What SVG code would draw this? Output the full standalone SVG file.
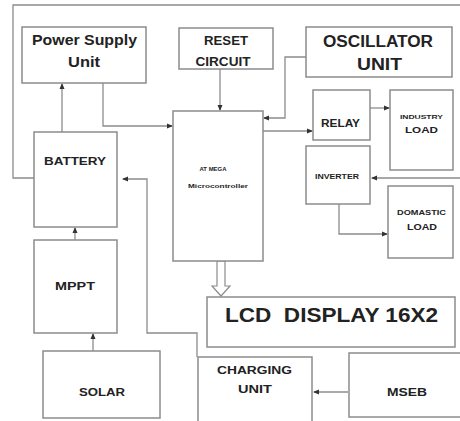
<svg xmlns="http://www.w3.org/2000/svg" width="460" height="421" viewBox="0 0 460 421">
<defs>
<style>
.box{fill:#fff;stroke:#8c8c8c;stroke-width:1.5}
.ln{fill:none;stroke:#8c8c8c;stroke-width:1.3}
text{font-family:"Liberation Sans",Arial,sans-serif;font-weight:bold;fill:#222;text-anchor:middle}
</style>
<marker id="ah" markerUnits="userSpaceOnUse" markerWidth="6" markerHeight="6" refX="5" refY="3" orient="auto">
<path d="M0,0.5 L6,3 L0,5.5 z" fill="#333"/>
</marker>
</defs>
<rect width="460" height="421" fill="#fff"/>
<g id="connectors">
<path class="ln" d="M34,178 L13,178 L13,5 L462,5 L462,178 L372,178" marker-end="url(#ah)"/>
<path class="ln" d="M62,132 L62,84" marker-end="url(#ah)"/>
<path class="ln" d="M103,83 L103,126 L172,126" marker-end="url(#ah)"/>
<path class="ln" d="M220,69 L220,110" marker-end="url(#ah)"/>
<path class="ln" d="M306,57 L285,57 L285,118 L264,118" marker-end="url(#ah)"/>
<path class="ln" d="M263,131 L312,131" marker-end="url(#ah)"/>
<path class="ln" d="M370,108 L389,108" marker-end="url(#ah)"/>
<path class="ln" d="M339,204 L339,234 L387,234" marker-end="url(#ah)"/>
<path class="ln" d="M197,357 L197,333 L147,333 L147,179 L123,179" marker-end="url(#ah)"/>
<path class="ln" d="M348,392 L314,392" marker-end="url(#ah)"/>
<path class="ln" d="M75,240 L75,228" marker-end="url(#ah)"/>
<path class="ln" d="M93,351 L93,334" marker-end="url(#ah)"/>
<polygon points="217,261 225,261 225,286 230,286 221,296 212,286 217,286" fill="#fff" stroke="#8c8c8c" stroke-width="1.2"/>
</g>
<g id="psu"><rect class="box" x="22" y="27" width="124" height="56"/>
<text x="84.5" y="45" font-size="14" textLength="105" lengthAdjust="spacingAndGlyphs">Power Supply</text>
<text x="84" y="67" font-size="14" textLength="32" lengthAdjust="spacingAndGlyphs">Unit</text></g>
<g id="reset"><rect class="box" x="179" y="28" width="94" height="41"/>
<text x="226" y="45" font-size="13" textLength="44" lengthAdjust="spacingAndGlyphs">RESET</text>
<text x="223" y="66" font-size="13" textLength="55" lengthAdjust="spacingAndGlyphs">CIRCUIT</text></g>
<g id="osc"><rect class="box" x="306" y="27" width="146" height="50"/>
<text x="378" y="47" font-size="16" textLength="110" lengthAdjust="spacingAndGlyphs">OSCILLATOR</text>
<text x="379.5" y="70" font-size="16" textLength="45" lengthAdjust="spacingAndGlyphs">UNIT</text></g>
<g id="mcu"><rect class="box" x="173" y="111" width="90" height="150"/>
<text x="213" y="171" font-size="5.5" font-weight="normal" textLength="27" lengthAdjust="spacingAndGlyphs">AT MEGA</text>
<text x="218" y="188" font-size="5.5" font-weight="normal" textLength="60" lengthAdjust="spacingAndGlyphs">Microcontroller</text></g>
<g id="battery"><rect class="box" x="34" y="132" width="83" height="95"/>
<text x="75" y="165" font-size="10.5" textLength="62" lengthAdjust="spacingAndGlyphs">BATTERY</text></g>
<g id="mppt"><rect class="box" x="34" y="240" width="83" height="93"/>
<text x="75" y="290" font-size="11" textLength="40" lengthAdjust="spacingAndGlyphs">MPPT</text></g>
<g id="solar"><rect class="box" x="43" y="351" width="117" height="67"/>
<text x="102" y="396" font-size="11.5" textLength="46" lengthAdjust="spacingAndGlyphs">SOLAR</text></g>
<g id="relay"><rect class="box" x="313" y="90" width="57" height="50"/>
<text x="340.5" y="127" font-size="11" textLength="39" lengthAdjust="spacingAndGlyphs">RELAY</text></g>
<g id="industry"><rect class="box" x="390" y="90" width="63" height="80"/>
<text x="421.5" y="119" font-size="6" textLength="43" lengthAdjust="spacingAndGlyphs">INDUSTRY</text>
<text x="421.5" y="133" font-size="9" textLength="33" lengthAdjust="spacingAndGlyphs">LOAD</text></g>
<g id="inverter"><rect class="box" x="306" y="146" width="64" height="58"/>
<text x="337" y="179" font-size="7" textLength="44" lengthAdjust="spacingAndGlyphs">INVERTER</text></g>
<g id="domastic"><rect class="box" x="388" y="186" width="65" height="72"/>
<text x="421.5" y="215" font-size="8" textLength="49" lengthAdjust="spacingAndGlyphs">DOMASTIC</text>
<text x="422" y="230" font-size="9.5" textLength="30" lengthAdjust="spacingAndGlyphs">LOAD</text></g>
<g id="lcd"><rect class="box" x="207" y="297" width="248" height="50"/>
<text x="331.5" y="322" font-size="21" textLength="213" lengthAdjust="spacingAndGlyphs">LCD&#160; DISPLAY 16X2</text></g>
<g id="charging"><rect class="box" x="198" y="357" width="114" height="70"/>
<text x="254.5" y="374" font-size="11" textLength="75" lengthAdjust="spacingAndGlyphs">CHARGING</text>
<text x="255" y="393" font-size="11" textLength="34" lengthAdjust="spacingAndGlyphs">UNIT</text></g>
<g id="mseb"><rect class="box" x="349" y="353" width="115" height="64"/>
<text x="407" y="396" font-size="11" textLength="40" lengthAdjust="spacingAndGlyphs">MSEB</text></g>
</svg>
